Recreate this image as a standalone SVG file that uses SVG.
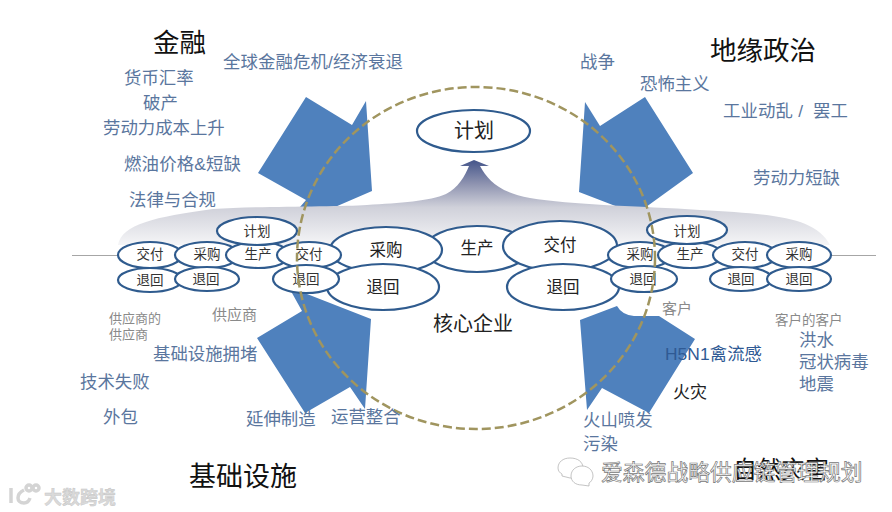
<svg xmlns="http://www.w3.org/2000/svg" width="892" height="512" viewBox="0 0 892 512">
<style>
text{font-family:"Liberation Sans","Noto Sans CJK SC",sans-serif}
.h{font-size:26.500px;fill:#111}
.l{font-size:17.400px;fill:#5a769e}
.g{fill:#8a8a8a}
.n ellipse{fill:#fff;stroke:#2f5b8e;stroke-width:2.200}
.s{font-size:13.500px;fill:#333;text-anchor:middle}
.b{font-size:16.500px;fill:#222;text-anchor:middle}
.v{fill:#4f81bd}
.w{fill:#fff;stroke:#777;stroke-width:.7}
</style>
<defs>
<linearGradient id="band" gradientUnits="userSpaceOnUse" x1="0" y1="160" x2="0" y2="255">
<stop offset="0" stop-color="#44558a"/>
<stop offset=".25" stop-color="#8e93b0"/>
<stop offset=".5" stop-color="#d0d1da"/>
<stop offset="1" stop-color="#fff"/>
</linearGradient>
</defs>
<g id="arrows">
<polygon class="v" points="306,97 352,125 366,101 372,191 335,207 300,207 306,200 258,173"/>
<polygon class="v" points="585,102 600,126 645,97 693,173 646,207 623,207 618,207 579,192"/>
<polygon class="v" points="292,293 302,311 257,338 305,413 350,387 365,409 371,319 307,294"/>
<path class="v" d="M580,320 617,306Q622,315 634,316L659,316 695,339 649,413 602,388 587,410Z"/>
</g>
<path id="band-shape" fill="url(#band)" d="M118,245C122,224 155,217 213,209C260,206 340,207 367,205C400,203 430,201 446,194C458,188 465,176 469,166L460,166 474,160 489,166 480,166C488,180 498,192 530,198C570,205 640,206 700,210C770,214 815,216 830,245Z"/>
<g id="connectors">
<line x1="72" y1="255.500" x2="118" y2="255.500" stroke="#a6a6a6"/>
<line x1="831" y1="255.500" x2="876" y2="255.500" stroke="#a6a6a6"/>
</g>
<g id="n-plan" class="n"><ellipse cx="473.500" cy="131" rx="56.500" ry="21"/><text class="b" x="474" y="138" style="font-size:20px">计划</text></g>
<g id="n-core-make" class="n"><ellipse cx="477" cy="249" rx="52" ry="23"/><text class="b" x="477" y="254">生产</text></g>
<g id="n-core-buy" class="n"><ellipse cx="386" cy="250" rx="56" ry="23"/><text class="b" x="386" y="256">采购</text></g>
<g id="n-core-deliver" class="n"><ellipse cx="560" cy="246" rx="57" ry="25"/><text class="b" x="560" y="251">交付</text></g>
<g id="n-core-ret1" class="n"><ellipse cx="383" cy="287" rx="56" ry="23"/><text class="b" x="383" y="293">退回</text></g>
<g id="n-core-ret2" class="n"><ellipse cx="563" cy="287" rx="56" ry="23"/><text class="b" x="563" y="293">退回</text></g>
<g id="n-sup2-deliver" class="n"><ellipse cx="150" cy="255" rx="32" ry="13"/><text class="s" x="150" y="259">交付</text></g>
<g id="n-sup2-ret" class="n"><ellipse cx="150" cy="280" rx="32" ry="12"/><text class="s" x="150" y="285">退回</text></g>
<g id="n-sup-buy" class="n"><ellipse cx="207" cy="255" rx="32" ry="13"/><text class="s" x="207" y="259">采购</text></g>
<g id="n-sup-ret" class="n"><ellipse cx="207" cy="279" rx="32" ry="12"/><text class="s" x="206" y="284">退回</text></g>
<g id="n-sup-make" class="n"><ellipse cx="258" cy="255" rx="32" ry="13"/><text class="s" x="258" y="259">生产</text></g>
<g id="n-sup-plan" class="n"><ellipse cx="257" cy="231" rx="40" ry="14"/><text class="s" x="257" y="236">计划</text></g>
<g id="n-sup-deliver" class="n"><ellipse cx="309" cy="255" rx="32" ry="13"/><text class="s" x="309" y="259">交付</text></g>
<g id="n-sup-ret2" class="n"><ellipse cx="306" cy="279" rx="33" ry="14"/><text class="s" x="306" y="284">退回</text></g>
<g id="n-cus-buy" class="n"><ellipse cx="640" cy="255" rx="32" ry="13"/><text class="s" x="640" y="259">采购</text></g>
<g id="n-cus-ret" class="n"><ellipse cx="644" cy="279" rx="33" ry="13"/><text class="s" x="643" y="284">退回</text></g>
<g id="n-cus-make" class="n"><ellipse cx="690" cy="255" rx="32" ry="13"/><text class="s" x="690" y="259">生产</text></g>
<g id="n-cus-plan" class="n"><ellipse cx="687" cy="230" rx="40" ry="14"/><text class="s" x="687" y="236">计划</text></g>
<g id="n-cus2-deliver" class="n"><ellipse cx="745" cy="255" rx="32" ry="13"/><text class="s" x="745" y="259">交付</text></g>
<g id="n-cus2-buy" class="n"><ellipse cx="799" cy="255" rx="32" ry="13"/><text class="s" x="799" y="259">采购</text></g>
<g id="n-cus2-ret1" class="n"><ellipse cx="741" cy="279" rx="31" ry="12"/><text class="s" x="741" y="284">退回</text></g>
<g id="n-cus2-ret2" class="n"><ellipse cx="799" cy="279" rx="32" ry="12"/><text class="s" x="799" y="284">退回</text></g>
<ellipse id="boundary" cx="476" cy="258" rx="179" ry="171" fill="none" stroke="#a0955f" stroke-width="2.500" stroke-dasharray="9 4"/>
<g id="labels">
<text class="h" x="153" y="52">金融</text>
<text class="h" x="710" y="60">地缘政治</text>
<text class="h" x="189" y="486" style="font-size:27px">基础设施</text>
<text class="l" x="223" y="68" textLength="180">全球金融危机/经济衰退</text>
<text class="l" x="124" y="84">货币汇率</text>
<text class="l" x="143" y="109">破产</text>
<text class="l" x="103" y="134">劳动力成本上升</text>
<text class="l" x="124" y="170" textLength="117">燃油价格&amp;短缺</text>
<text class="l" x="129" y="206">法律与合规</text>
<text class="l" x="580" y="68">战争</text>
<text class="l" x="640" y="90">恐怖主义</text>
<text class="l" x="723" y="117" xml:space="preserve" textLength="125">工业动乱 /  罢工</text>
<text class="l" x="753" y="184">劳动力短缺</text>
<text class="g" x="109" y="323" font-size="13">供应商的</text>
<text class="g" x="109" y="339" font-size="13">供应商</text>
<text class="g" x="212" y="320" font-size="15">供应商</text>
<text class="l" x="153" y="360">基础设施拥堵</text>
<text class="l" x="80" y="388">技术失败</text>
<text class="l" x="103" y="423">外包</text>
<text class="l" x="246" y="425">延伸制造</text>
<text class="l" x="331" y="423">运营整合</text>
<text x="433" y="331" font-size="20" fill="#222">核心企业</text>
<text class="g" x="662" y="314" font-size="15">客户</text>
<text class="g" x="775" y="325" font-size="13.500">客户的客户</text>
<text class="l" x="799" y="346">洪水</text>
<text class="l" x="799" y="368">冠状病毒</text>
<text class="l" x="799" y="390">地震</text>
<text class="l" x="665" y="360" textLength="97" style="fill:#2f5a94">H5N1禽流感</text>
<text x="673" y="398" font-size="17" fill="#222">火灾</text>
<text class="l" x="583" y="426">火山喷发</text>
<text class="l" x="583" y="450">污染</text>
<text x="733" y="478" font-size="24" fill="#111">自然灾害</text>
</g>
<g id="watermarks">
<text class="w" x="601" y="480" font-size="21.800">爱森德战略供应链管理规划</text>
<g fill="#fff" stroke="#aaa" stroke-width=".7">
<path d="M562,476 570,478C578,478 583,474 583,468C583,462 578,458 570,458C563,458 558,462 558,468C558,471 560,473 562,474Z"/>
<path d="M589,486 582,485C575,485 571,481 571,476C571,470 576,466 582,466C588,466 593,470 593,476C593,479 591,482 589,483Z"/>
</g>
<g fill="none" stroke="#d4d4d4" stroke-width="3.500">
<path d="M11,488V503"/>
<path d="M24,490C16,494 16,503 24,503C27,503 29,501 30,498"/>
<circle cx="29" cy="488" r="3"/><circle cx="36" cy="488" r="3"/>
</g>
<text x="44" y="504" font-size="18" font-weight="700" fill="#dadada" stroke="#c4c4c4" stroke-width=".4">大数跨境</text>
</g>
</svg>
